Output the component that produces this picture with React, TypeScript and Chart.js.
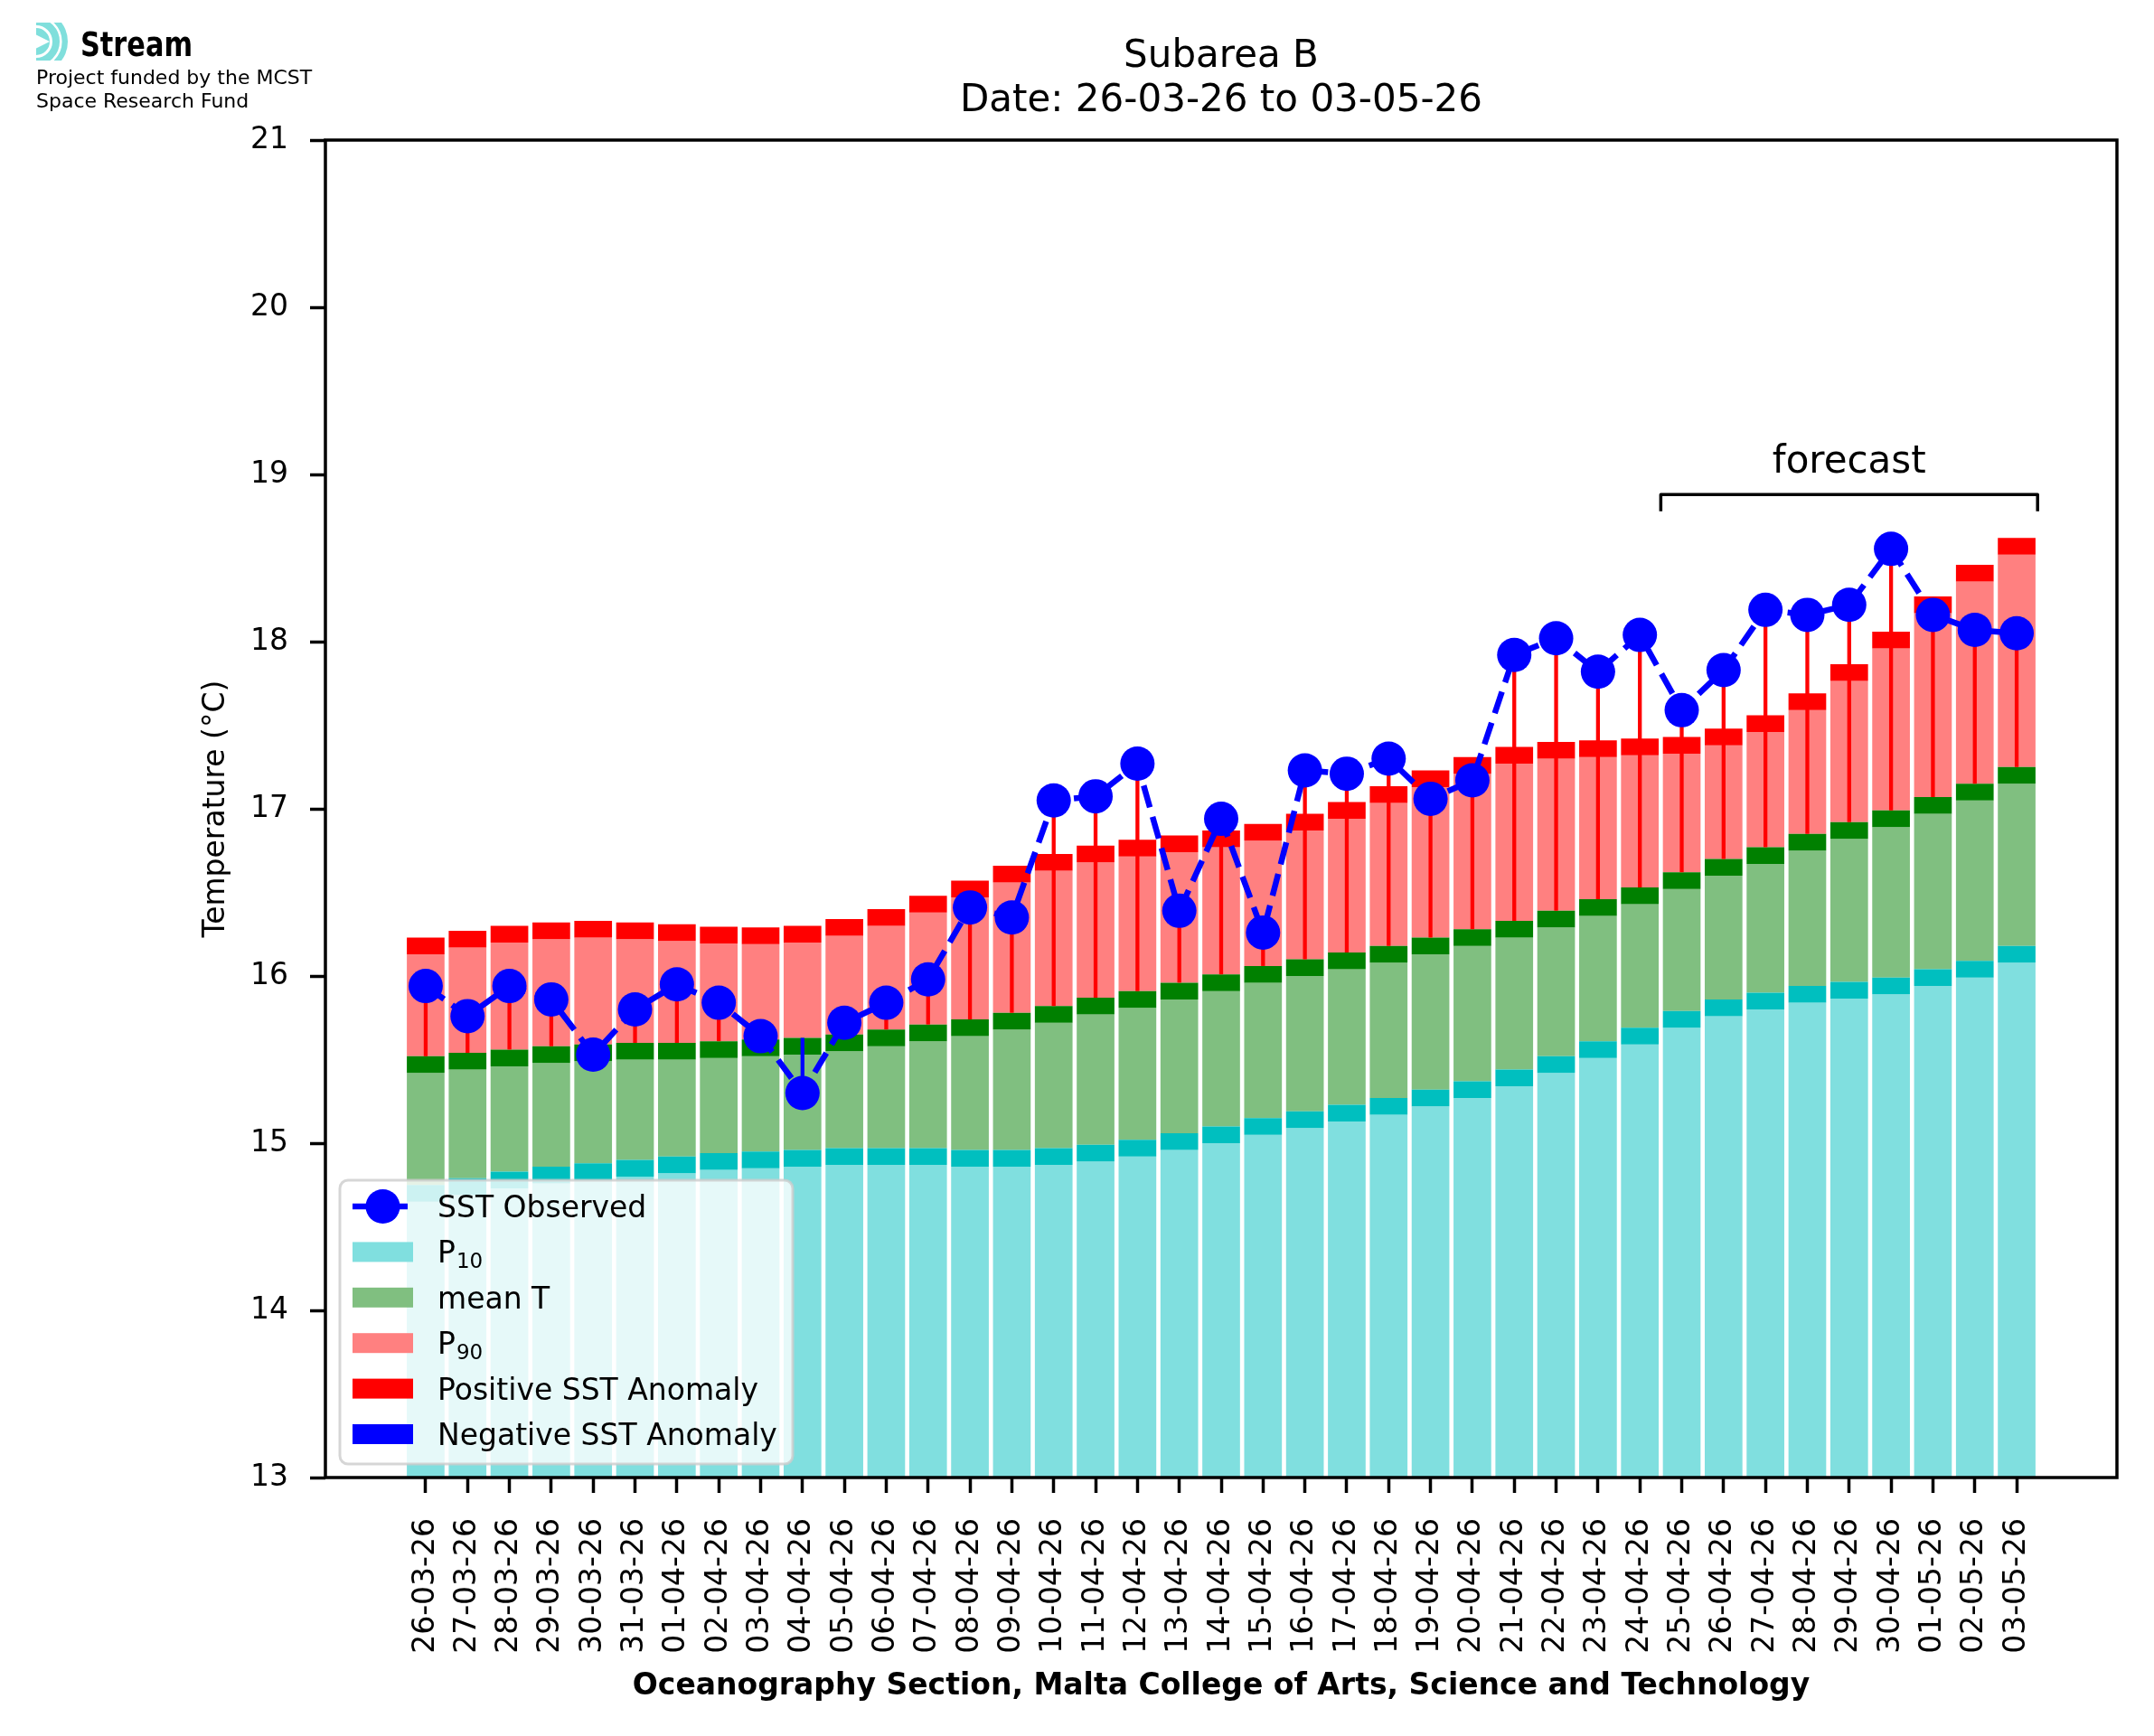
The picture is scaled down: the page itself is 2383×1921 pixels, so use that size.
import { useEffect, useRef } from "react";
import { Chart, registerables } from "chart.js";

Chart.register(...registerables);

const dates = [
  "26-03-26", "27-03-26", "28-03-26", "29-03-26", "30-03-26", "31-03-26",
  "01-04-26", "02-04-26", "03-04-26", "04-04-26", "05-04-26", "06-04-26",
  "07-04-26", "08-04-26", "09-04-26", "10-04-26", "11-04-26", "12-04-26",
  "13-04-26", "14-04-26", "15-04-26", "16-04-26", "17-04-26", "18-04-26",
  "19-04-26", "20-04-26", "21-04-26", "22-04-26", "23-04-26", "24-04-26",
  "25-04-26", "26-04-26", "27-04-26", "28-04-26", "29-04-26", "30-04-26",
  "01-05-26", "02-05-26", "03-05-26",
];

const p10 = [
  14.75, 14.79, 14.83, 14.86, 14.88, 14.9, 14.92, 14.94, 14.95, 14.96,
  14.97, 14.97, 14.97, 14.96, 14.96, 14.97, 14.99, 15.02, 15.06, 15.1,
  15.15, 15.19, 15.23, 15.27, 15.32, 15.37, 15.44, 15.52, 15.61, 15.69,
  15.79, 15.86, 15.9, 15.94, 15.965, 15.99, 16.04, 16.09, 16.18,
];

const meanT = [
  15.52, 15.54, 15.56, 15.58, 15.59, 15.6, 15.6, 15.61, 15.62, 15.63,
  15.65, 15.68, 15.71, 15.74, 15.78, 15.82, 15.87, 15.91, 15.96, 16.01,
  16.06, 16.1, 16.14, 16.18, 16.23, 16.28, 16.33, 16.39, 16.46, 16.53,
  16.62, 16.7, 16.77, 16.85, 16.92, 16.99, 17.07, 17.15, 17.25,
];

const p90 = [
  16.23, 16.27, 16.3, 16.32, 16.33, 16.32, 16.31, 16.295, 16.29, 16.3,
  16.34, 16.4, 16.48, 16.57, 16.66, 16.73, 16.78, 16.815, 16.84, 16.87,
  16.91, 16.97, 17.04, 17.135, 17.23, 17.31, 17.37, 17.4, 17.41, 17.42,
  17.43, 17.48, 17.56, 17.69, 17.865, 18.06, 18.27, 18.46, 18.62,
];

const sstObserved = [
  15.94, 15.76, 15.94, 15.86, 15.53, 15.8, 15.95, 15.84, 15.64, 15.3,
  15.72, 15.84, 15.98, 16.41, 16.35, 17.05, 17.075, 17.27, 16.39, 16.94,
  16.26, 17.23, 17.21, 17.3, 17.06, 17.17, 17.92, 18.02, 17.82, 18.04,
  17.59, 17.83, 18.19, 18.16, 18.22, 18.555, 18.16, 18.07, 18.05,
];

const tempTicks = [13, 14, 15, 16, 17, 18, 19, 20, 21];

// forecast period (first and last index)
const forecastFrom = 30;
const forecastTo = 38;

const BAND = 0.1;
const FONT = "DejaVu Sans";
const LOGO = "#80dfdc";

const floating = (lo: (i: number) => number, hi: (i: number) => number) =>
  dates.map((_, i) => ({ x: i, y: [lo(i), hi(i)] }));

const barStyle = (color: string, order: number) => ({
  type: "bar" as const,
  backgroundColor: color,
  borderWidth: 0,
  grouped: false,
  barPercentage: 0.9,
  categoryPercentage: 1,
  order,
});

const legendItems = [
  { label: "SST Observed", kind: "line", color: "#0000ff" },
  { label: "P", sub: "10", kind: "box", color: "#80dfdf" },
  { label: "mean T", kind: "box", color: "#80bf80" },
  { label: "P", sub: "90", kind: "box", color: "#ff8080" },
  { label: "Positive SST Anomaly", kind: "box", color: "#ff0000" },
  { label: "Negative SST Anomaly", kind: "box", color: "#0000ff" },
];

const decor = {
  id: "decor",
  afterDatasetsDraw(chart: any) {
    const { ctx, chartArea: a, scales } = chart;
    const x = scales.x;
    const y = scales.y;
    ctx.save();

    // spines
    ctx.strokeStyle = "#000";
    ctx.lineWidth = 3.5;
    ctx.strokeRect(a.left, a.top, a.right - a.left, a.bottom - a.top);

    // forecast bracket
    const bx0 = x.getPixelForValue(forecastFrom - 0.5);
    const bx1 = x.getPixelForValue(forecastTo + 0.5);
    const by = y.getPixelForValue(18.88);
    const byEnd = y.getPixelForValue(18.78);
    ctx.beginPath();
    ctx.moveTo(bx0, byEnd);
    ctx.lineTo(bx0, by);
    ctx.lineTo(bx1, by);
    ctx.lineTo(bx1, byEnd);
    ctx.lineWidth = 3.5;
    ctx.lineJoin = "round";
    ctx.stroke();
    ctx.fillStyle = "#000";
    ctx.font = `42px ${FONT}`;
    ctx.textAlign = "center";
    ctx.textBaseline = "alphabetic";
    ctx.fillText("forecast", (bx0 + bx1) / 2, y.getPixelForValue(19.01));

    // legend
    const lx = 376, ly = 1306, lw = 501, lh = 314;
    ctx.beginPath();
    ctx.roundRect(lx, ly, lw, lh, 9);
    ctx.fillStyle = "rgba(255,255,255,0.8)";
    ctx.fill();
    ctx.lineWidth = 3;
    ctx.strokeStyle = "rgba(204,204,204,0.8)";
    ctx.stroke();
    legendItems.forEach((item, k) => {
      const cy = 1335 + k * 50.4;
      if (item.kind === "line") {
        ctx.beginPath();
        ctx.setLineDash([25, 11]);
        ctx.moveTo(390, cy);
        ctx.lineTo(457, cy);
        ctx.strokeStyle = item.color;
        ctx.lineWidth = 6.5;
        ctx.stroke();
        ctx.setLineDash([]);
        ctx.beginPath();
        ctx.arc(423.5, cy, 19, 0, Math.PI * 2);
        ctx.fillStyle = item.color;
        ctx.fill();
      } else {
        ctx.fillStyle = item.color;
        ctx.fillRect(390, cy - 11, 67, 22);
      }
      ctx.fillStyle = "#000";
      ctx.textAlign = "left";
      ctx.font = `33px ${FONT}`;
      ctx.fillText(item.label, 484, cy + 12);
      if (item.sub) {
        const w = ctx.measureText(item.label).width;
        ctx.font = `23px ${FONT}`;
        ctx.fillText(item.sub, 484 + w + 1, cy + 18);
      }
    });
    ctx.restore();
  },
  afterDraw(chart: any) {
    const { ctx, chartArea: a } = chart;
    const cx = (a.left + a.right) / 2;
    ctx.save();
    ctx.fillStyle = "#000";
    ctx.textAlign = "center";
    ctx.textBaseline = "alphabetic";

    // title
    ctx.font = `42px ${FONT}`;
    ctx.fillText("Subarea B", cx, 74);
    ctx.fillText("Date: 26-03-26 to 03-05-26", cx, 123);

    // axis titles
    ctx.font = `bold 33px ${FONT}`;
    ctx.fillText(
      "Oceanography Section, Malta College of Arts, Science and Technology",
      cx,
      1875
    );
    ctx.save();
    ctx.translate(248, (a.top + a.bottom) / 2);
    ctx.rotate(-Math.PI / 2);
    ctx.font = `33px ${FONT}`;
    ctx.fillText("Temperature (°C)", 0, 0);
    ctx.restore();

    // logo mark: half disc with notch and two rings
    ctx.save();
    ctx.beginPath();
    ctx.rect(40, 25, 36, 42);
    ctx.clip();
    ctx.fillStyle = LOGO;
    ctx.beginPath();
    ctx.arc(40, 46, 35, 0, Math.PI * 2);
    ctx.fill();
    ctx.strokeStyle = "#fff";
    ctx.lineWidth = 3;
    ctx.beginPath();
    ctx.arc(40, 46, 16.5, 0, Math.PI * 2);
    ctx.stroke();
    ctx.lineWidth = 2.6;
    ctx.beginPath();
    ctx.arc(40, 46, 27.3, 0, Math.PI * 2);
    ctx.stroke();
    ctx.fillStyle = "#fff";
    ctx.beginPath();
    ctx.moveTo(40, 38.5);
    ctx.lineTo(55, 46);
    ctx.lineTo(40, 53.5);
    ctx.fill();
    ctx.restore();

    // logo text
    ctx.textAlign = "left";
    ctx.font = `bold 38px ${FONT}`;
    const sw = ctx.measureText("Stream").width;
    ctx.save();
    ctx.translate(89, 62);
    ctx.scale(124 / sw, 1);
    ctx.fillText("Stream", 0, 0);
    ctx.restore();
    ctx.font = `22px ${FONT}`;
    ctx.fillText("Project funded by the MCST", 40, 93);
    ctx.fillText("Space Research Fund", 40, 119);
    ctx.restore();
  },
};

export default function App() {
  const canvasRef = useRef<HTMLCanvasElement>(null);
  const chartRef = useRef<Chart | null>(null);

  useEffect(() => {
    if (!canvasRef.current) return;
    if (chartRef.current) chartRef.current.destroy();

    chartRef.current = new Chart(canvasRef.current, {
      type: "bar",
      data: {
        datasets: [
          {
            type: "line",
            label: "SST Observed",
            data: dates.map((_, i) => ({ x: i, y: sstObserved[i] })),
            borderColor: "#0000ff",
            borderWidth: 6.5,
            borderDash: [25, 11],
            pointRadius: 19,
            pointBackgroundColor: "#0000ff",
            pointBorderWidth: 0,
            tension: 0,
            order: 0,
          },
          {
            ...barStyle("#ff0000", 1),
            label: "SST Anomaly",
            data: floating((i) => meanT[i], (i) => sstObserved[i]),
            backgroundColor: dates.map((_, i) =>
              sstObserved[i] >= meanT[i] ? "#ff0000" : "#0000ff"
            ),
            maxBarThickness: 4.3,
          },
          {
            ...barStyle("#00bfbf", 2),
            label: "P10 band",
            data: floating((i) => p10[i] - BAND, (i) => p10[i]),
          },
          {
            ...barStyle("#008000", 2),
            label: "mean T band",
            data: floating((i) => meanT[i] - BAND, (i) => meanT[i]),
          },
          {
            ...barStyle("#ff0000", 2),
            label: "P90 band",
            data: floating((i) => p90[i] - BAND, (i) => p90[i]),
          },
          {
            ...barStyle("#80dfdf", 3),
            label: "P10",
            data: floating(() => tempTicks[0], (i) => p10[i] - BAND),
          },
          {
            ...barStyle("#80bf80", 3),
            label: "mean T",
            data: floating((i) => p10[i], (i) => meanT[i] - BAND),
          },
          {
            ...barStyle("#ff8080", 3),
            label: "P90",
            data: floating((i) => meanT[i], (i) => p90[i] - BAND),
          },
        ] as any,
      },
      options: {
        responsive: false,
        animation: false,
        devicePixelRatio: 1,
        events: [],
        layout: { padding: { top: 155, right: 41, left: 0, bottom: 0 } },
        plugins: {
          legend: { display: false },
          tooltip: { enabled: false },
          title: { display: false },
        },
        scales: {
          x: {
            type: "linear",
            min: -2.395,
            max: 40.395,
            bounds: "data",
            offset: false,
            grid: {
              offset: false,
              drawOnChartArea: false,
              drawTicks: true,
              tickLength: 17,
              tickWidth: 3.5,
              tickColor: "#000",
            },
            border: { display: false },
            afterBuildTicks: (scale: any) => {
              scale.ticks = dates.map((_, i) => ({ value: i }));
            },
            afterFit: (scale: any) => {
              scale.height = 286;
            },
            ticks: {
              autoSkip: false,
              maxRotation: 90,
              minRotation: 90,
              padding: 28,
              color: "#000",
              font: { family: FONT, size: 33 },
              callback: (v: any) => dates[v] ?? "",
            },
          },
          y: {
            type: "linear",
            min: 13,
            max: 21,
            grid: {
              offset: false,
              drawOnChartArea: false,
              drawTicks: true,
              tickLength: 17,
              tickWidth: 3.5,
              tickColor: "#000",
            },
            border: { display: false },
            afterBuildTicks: (scale: any) => {
              scale.ticks = tempTicks.map((v) => ({ value: v }));
            },
            afterFit: (scale: any) => {
              scale.width = 360;
            },
            ticks: {
              padding: 24,
              color: "#000",
              font: { family: FONT, size: 33 },
              callback: (v: any) => String(v),
            },
          },
        },
      } as any,
      plugins: [decor],
    });

    return () => {
      if (chartRef.current) {
        chartRef.current.destroy();
        chartRef.current = null;
      }
    };
  }, []);

  return (
    <div style={{ position: "absolute", left: 0, top: 0, width: 2383, height: 1921, background: "#fff" }}>
      <canvas ref={canvasRef} width={2383} height={1921} style={{ width: 2383, height: 1921 }} />
    </div>
  );
}
